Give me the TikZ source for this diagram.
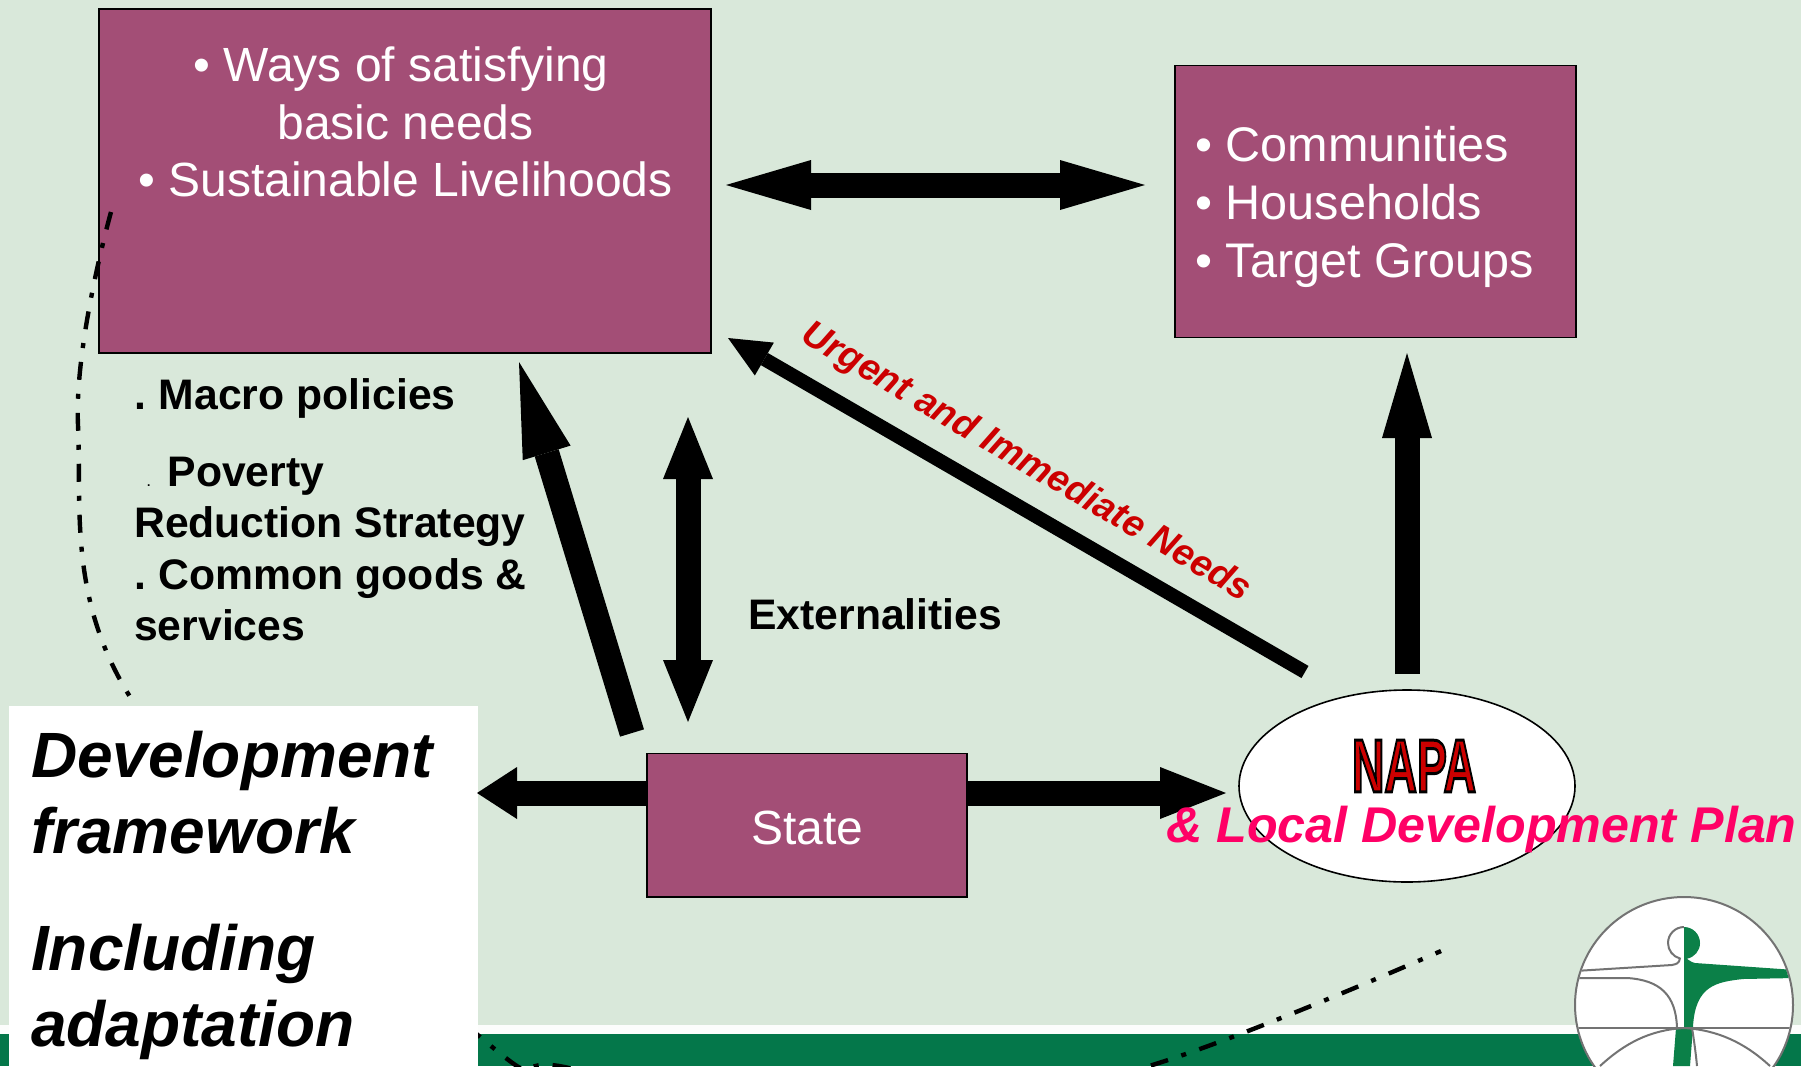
\documentclass[tikz,border=0pt]{standalone}
\usepackage{fontspec}
\setmainfont{Liberation Sans}
\usetikzlibrary{arrows.meta,shapes.geometric}
\definecolor{bg}{HTML}{D9E8DA}
\definecolor{plum}{HTML}{A34E76}
\definecolor{barg}{HTML}{04774A}
\definecolor{logog}{HTML}{0B8048}
\definecolor{urgent}{HTML}{CC0000}
\definecolor{pinkish}{HTML}{FF0066}
\newcommand{\fsz}[2]{\fontsize{#1}{#2}\selectfont}
\tikzset{
 x=1pt,y=-1pt,
 plumbox/.style={draw=black,line width=1.6pt,fill=plum,text=white,inner sep=0pt},
 whitetxt/.style={text=white,font=\fsz{48}{57.5},inner sep=0pt},
 blacktxt/.style={text=black,font=\bfseries\fsz{42.7}{51.3},inner sep=0pt,align=left},
 bigarrow/.style={line width=25pt,draw=black,-{Triangle[length=#1,width=50pt,line width=0pt]}},
 bigboth/.style={line width=25pt,draw=black,{Triangle[length=#1,width=50pt,line width=0pt]}-{Triangle[length=#1,width=50pt,line width=0pt]}},
 dashdot/.style={line width=4.4pt,dash pattern=on 18pt off 14pt on 5pt off 14pt},
 logoline/.style={draw=black!55,line width=2pt},
}
\begin{document}
\begin{tikzpicture}
\useasboundingbox (0,0) rectangle (1801,1066);
\clip (0,0) rectangle (1801,1066);
\fill[bg] (0,0) rectangle (1801,1066);
\fill[white!92!bg] (0,1025) rectangle (1801,1034);
\fill[barg] (0,1034) rectangle (1801,1066);
% boxes
\node[plumbox,minimum width=612pt,minimum height=344pt] (ways) at (405,181) {};
\node[whitetxt,align=center,anchor=north] (waystxt) at (405.5,47) {• Ways of satisfying\kern9pt\\basic needs\\• Sustainable Livelihoods};
\node[plumbox,minimum width=401pt,minimum height=272pt] (comm) at (1375.5,201.5) {};
\node[whitetxt,font=\fsz{48.6}{58},align=left,anchor=west] (commtxt) at (1195,207) {• Communities\\• Households\\• Target Groups};
\node[plumbox,minimum width=320pt,minimum height=143.5pt,font=\fsz{48}{58}] (state) at (807,825.3) {\raisebox{-19pt}[0pt][0pt]{\kern1pt State}};
\node[ellipse,draw=black,line width=1.6pt,fill=white,minimum width=336pt,minimum height=192pt,inner sep=0pt] (napa) at (1407,786) {};
% dash-dot curve
\coordinate (c0) at (111,212);
\coordinate (c1) at (78,425);
\coordinate (c2) at (134,703);
\coordinate (c3) at (479,1036);
\coordinate (c3b) at (569,1068);
\coordinate (c4) at (860,1125);
\coordinate (c5) at (1149,1066);
\coordinate (c6) at (1441,951);
\draw[dashdot] plot[smooth,tension=0.6] coordinates {(c0) (c1) (c2) (c3) (c3b) (c4) (c5) (c6)};
% white box
\node[fill=white,minimum width=469pt,minimum height=370pt,inner sep=0pt] (dev) at (243.5,891) {};
\node[font=\bfseries\itshape\fsz{64}{76},align=left,inner sep=0pt,anchor=north west] (devtxt) at (31,731) {Development\\framework\\[41pt]Including\\adaptation};
% arrows
\coordinate (a1) at (726,185); \coordinate (a2) at (1145,185);
\draw[bigboth=85pt] (a1) -- (a2);
\coordinate (b1) at (1407,674); \coordinate (b2) at (1407,353);
\draw[bigarrow=85pt] (b1) -- (b2);
\coordinate (c1a) at (1305,672); \coordinate (c2a) at (728,338);
\draw[line width=14pt,-{Triangle[length=42pt,width=38pt,line width=0pt]}] (c1a) -- (c2a);
\coordinate (d1) at (632,733); \coordinate (d2) at (519,362);
\draw[bigarrow=95pt] (d1) -- (d2);
\coordinate (e1) at (688,417); \coordinate (e2) at (688,722);
\draw[bigboth=62pt] (e1) -- (e2);
\coordinate (f2) at (477,793);
\draw[line width=25pt,-{Triangle[length=40pt,width=52pt,line width=0pt]}] (state.west |- f2) -- (f2);
\coordinate (g2) at (1226,793);
\draw[line width=25pt,-{Triangle[length=66pt,width=52pt,line width=0pt]}] (state.east |- g2) -- (g2);
% labels
\node[blacktxt,anchor=north west] (macro) at (134,378) {.\kern1pt\ Macro policies};
\node[blacktxt,anchor=north west] (pov) at (134,457) {\hspace{13pt}{\fsz{12}{14}.}\hspace{17pt}Poverty\\Reduction Strategy\\.\kern1pt\ Common goods \&\\services};
\node[blacktxt,anchor=north west] (ext) at (748,598) {Externalities};
\node[text=urgent,font=\bfseries\itshape\fsz{37.3}{42},rotate=-30.5,inner sep=0pt] (urg) at (1026,463) {Urgent and Immediate Needs};
\node[text=pinkish,font=\bfseries\itshape\fsz{50.2}{56},inner sep=0pt,anchor=north west] (ldp) at (1166,806) {\& Local Development Plan};
\node[inner sep=0pt] (napatxt) at (1414,766) {\scalebox{0.6}[1.0]{\bfseries\fsz{75}{75}\special{pdf:code q 2 Tr 3 w 0 0 0 RG 0.8 0 0 rg}NAPA\special{pdf:code Q}}};
% logo
\node[ellipse,draw=black!55,line width=2pt,fill=white,minimum width=218pt,minimum height=216pt,inner sep=0pt] (logo) at (1684,1005) {};
\begin{scope}
\clip (logo.center) ellipse (108pt and 107pt);
\fill[logog] (1684,927) arc (-90:80:16 and 16) .. controls (1690,960) and (1690,962) .. (1695,963) -- (1795,970) -- (1795,978) -- (1743,979) .. controls (1717,982) and (1695,985) .. (1693,1027) -- (1690,1066) -- (1673,1066) -- (1676,1028) -- (1684,1028) -- cycle;
\draw[logoline] (1684,927) arc (-90:-255:16 and 16) .. controls (1678,960) and (1682,963) .. (1672,965) -- (1575,971);
\draw[logoline] (1570,978) -- (1627,978) .. controls (1660,980) and (1676,995) .. (1677,1028);
\draw[logoline] (1570,1028) -- (1800,1028);
\draw[logoline] (1600,1066) .. controls (1625,1043) and (1650,1030) .. (1684,1028) .. controls (1718,1030) and (1745,1043) .. (1770,1066);
\draw[logoline] (1692,1028) .. controls (1694,1040) and (1696,1055) .. (1697,1066);
\end{scope}
\end{tikzpicture}
\end{document}
